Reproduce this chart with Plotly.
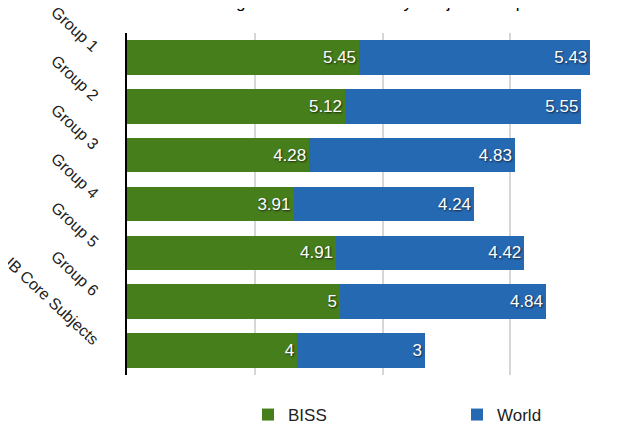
import plotly.graph_objects as go

categories = ["Group 1", "Group 2", "Group 3", "Group 4", "Group 5", "Group 6", "IB Core Subjects"]
biss = [5.45, 5.12, 4.28, 3.91, 4.91, 5, 4]
world = [5.43, 5.55, 4.83, 4.24, 4.42, 4.84, 3]
title_text = "Average Grades Achieved by Subject Group"

GREEN = "#467e1c"
BLUE = "#2669b3"
FONT = "Liberation Sans, Arial, sans-serif"
bar_text_font = dict(family=FONT, size=17, color="white",
                     shadow="1px 1px 2px rgba(0,0,0,0.7)")

fig = go.Figure()
fig.add_trace(go.Bar(
    y=categories, x=biss, name="BISS", orientation="h", legend="legend",
    marker=dict(color=GREEN, line=dict(width=0)),
    text=[f"{v:g}" for v in biss], textposition="inside",
    insidetextanchor="end", textfont=bar_text_font, textangle=0,
))
fig.add_trace(go.Bar(
    y=categories, x=world, name="World", orientation="h", legend="legend2",
    marker=dict(color=BLUE, line=dict(width=0)),
    text=[f"{v:g}" for v in world], textposition="inside",
    insidetextanchor="end", textfont=bar_text_font, textangle=0,
))

legend_common = dict(orientation="h", xref="container", yref="container",
                     yanchor="middle", y=1 - 407 / 424, xanchor="left",
                     font=dict(size=17, color="#222222"), bgcolor="rgba(0,0,0,0)")

fig.update_layout(
    width=630, height=424,
    barmode="stack", bargap=0.29,
    margin=dict(l=119, r=0, t=25, b=57),
    plot_bgcolor="white", paper_bgcolor="white",
    font=dict(family=FONT, color="#222222"),
    showlegend=True,
    legend=dict(legend_common, x=240 / 630),
    legend2=dict(legend_common, x=449 / 630),
)
fig.update_xaxes(range=[0, 12], dtick=3, showgrid=True, gridcolor="#d6d6d6", gridwidth=2,
                 showticklabels=False, zeroline=False, showline=False, ticks="",
                 automargin=False)
fig.update_yaxes(autorange="reversed", showline=True, linecolor="black", linewidth=2,
                 tickangle=43, tickfont=dict(size=16, color="#222222"), ticks="",
                 ticklabelstandoff=24, ticklabelshift=8, showgrid=False, automargin=False)

fig.add_annotation(text=title_text, xref="paper", yref="paper", x=(350 - 119) / 511,
                   xanchor="center", y=1 + 19 / 342, yanchor="bottom", showarrow=False,
                   font=dict(size=17, color="black", family=FONT))

fig.write_html("out.html")
